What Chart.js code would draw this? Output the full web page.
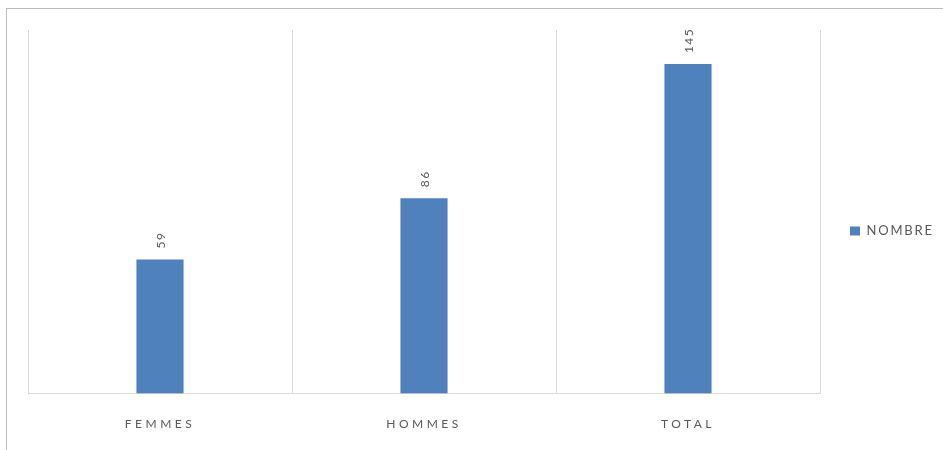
<!DOCTYPE html>
<html lang="fr">
<head>
<meta charset="utf-8">
<title>Nombre</title>
<script src="https://cdn.jsdelivr.net/npm/chart.js@4/dist/chart.umd.min.js"></script>
<style>
    html, body { margin: 0; padding: 0; background: #ffffff; overflow: hidden; }
    #wrap { position: relative; width: 943px; height: 450px; }
    #frame { position: absolute; left: 6px; top: 8px; width: 1000px; height: 1000px; border: 1px solid #bcbcbc; box-sizing: border-box; }
    #barChart { position: absolute; left: 0; top: 0; }
</style>
</head>
<body>
<div id="wrap">
    <div id="frame"></div>
    <canvas id="barChart" width="943" height="450"></canvas>
</div>
<script>
// Chart data
const categories = ['FEMMES', 'HOMMES', 'TOTAL'];
const seriesName = 'NOMBRE';
const values = [59, 86, 145];
const yMin = 0;
const yMax = 160;

// Text look (Excel style, letter spaced)
const textColor = '#595959';
const fontFamily = 'Lato, "Liberation Sans", sans-serif';

// Adds letter spacing to the canvas text: legend, and wider for the x ticks
const spacingPlugin = {
    id: 'spacing',
    beforeLayout(chart) {
        chart.ctx.letterSpacing = '1.8px';
    },
    afterLayout(chart) {
        // lift the legend a bit, it sits slightly above the middle in the original
        const lg = chart.legend;
        if (lg) {
            lg.bottom -= 22;
            lg.height -= 22;
        }
    },
    beforeDraw(chart) {
        chart.ctx.letterSpacing = '1.8px';
        const xScale = chart.scales.x;
        if (xScale && !xScale._spaced) {
            const orig = xScale.drawLabels;
            xScale.drawLabels = function(area) {
                const c = this.ctx;
                c.save();
                c.letterSpacing = '3.5px';
                orig.call(this, area);
                c.restore();
            };
            xScale._spaced = true;
        }
    }
};

// Draws the value above each bar, rotated like in the original
const valueLabels = {
    id: 'valueLabels',
    afterDatasetsDraw(chart) {
        const ctx = chart.ctx;
        const meta = chart.getDatasetMeta(0);
        meta.data.forEach((bar, i) => {
            ctx.save();
            ctx.letterSpacing = '1.5px';
            ctx.font = '12px ' + fontFamily;
            ctx.fillStyle = textColor;
            ctx.textAlign = 'left';
            ctx.textBaseline = 'middle';
            ctx.translate(bar.x + 1, bar.y - 11);
            ctx.rotate(-Math.PI / 2);
            ctx.fillText(String(values[i]), 0, 0);
            ctx.restore();
        });
    }
};

document.addEventListener('DOMContentLoaded', function() {
    const ctx = document.getElementById('barChart').getContext('2d');
    new Chart(ctx, {
        type: 'bar',
        data: {
            labels: categories,
            datasets: [{
                label: seriesName,
                data: values,
                backgroundColor: '#4f81bd',
                borderWidth: 0,
                categoryPercentage: 1,
                barPercentage: 1 / 5.6
            }]
        },
        options: {
            responsive: false,
            animation: false,
            layout: {
                padding: { left: 28, top: 30, right: 0, bottom: -4 }
            },
            scales: {
                x: {
                    grid: { color: '#d9d9d9', lineWidth: 1, drawTicks: false },
                    border: { color: '#d9d9d9', width: 1 },
                    ticks: {
                        color: textColor,
                        padding: 23,
                        maxRotation: 0,
                        font: { family: fontFamily, size: 12 }
                    }
                },
                y: {
                    display: false,
                    min: yMin,
                    max: yMax
                }
            },
            plugins: {
                legend: {
                    position: 'right',
                    maxWidth: 123,
                    labels: {
                        boxWidth: 10,
                        boxHeight: 9,
                        padding: 30,
                        color: textColor,
                        font: { family: fontFamily, size: 13 }
                    }
                },
                tooltip: { enabled: false }
            }
        },
        plugins: [spacingPlugin, valueLabels]
    });
});
</script>
</body>
</html>
